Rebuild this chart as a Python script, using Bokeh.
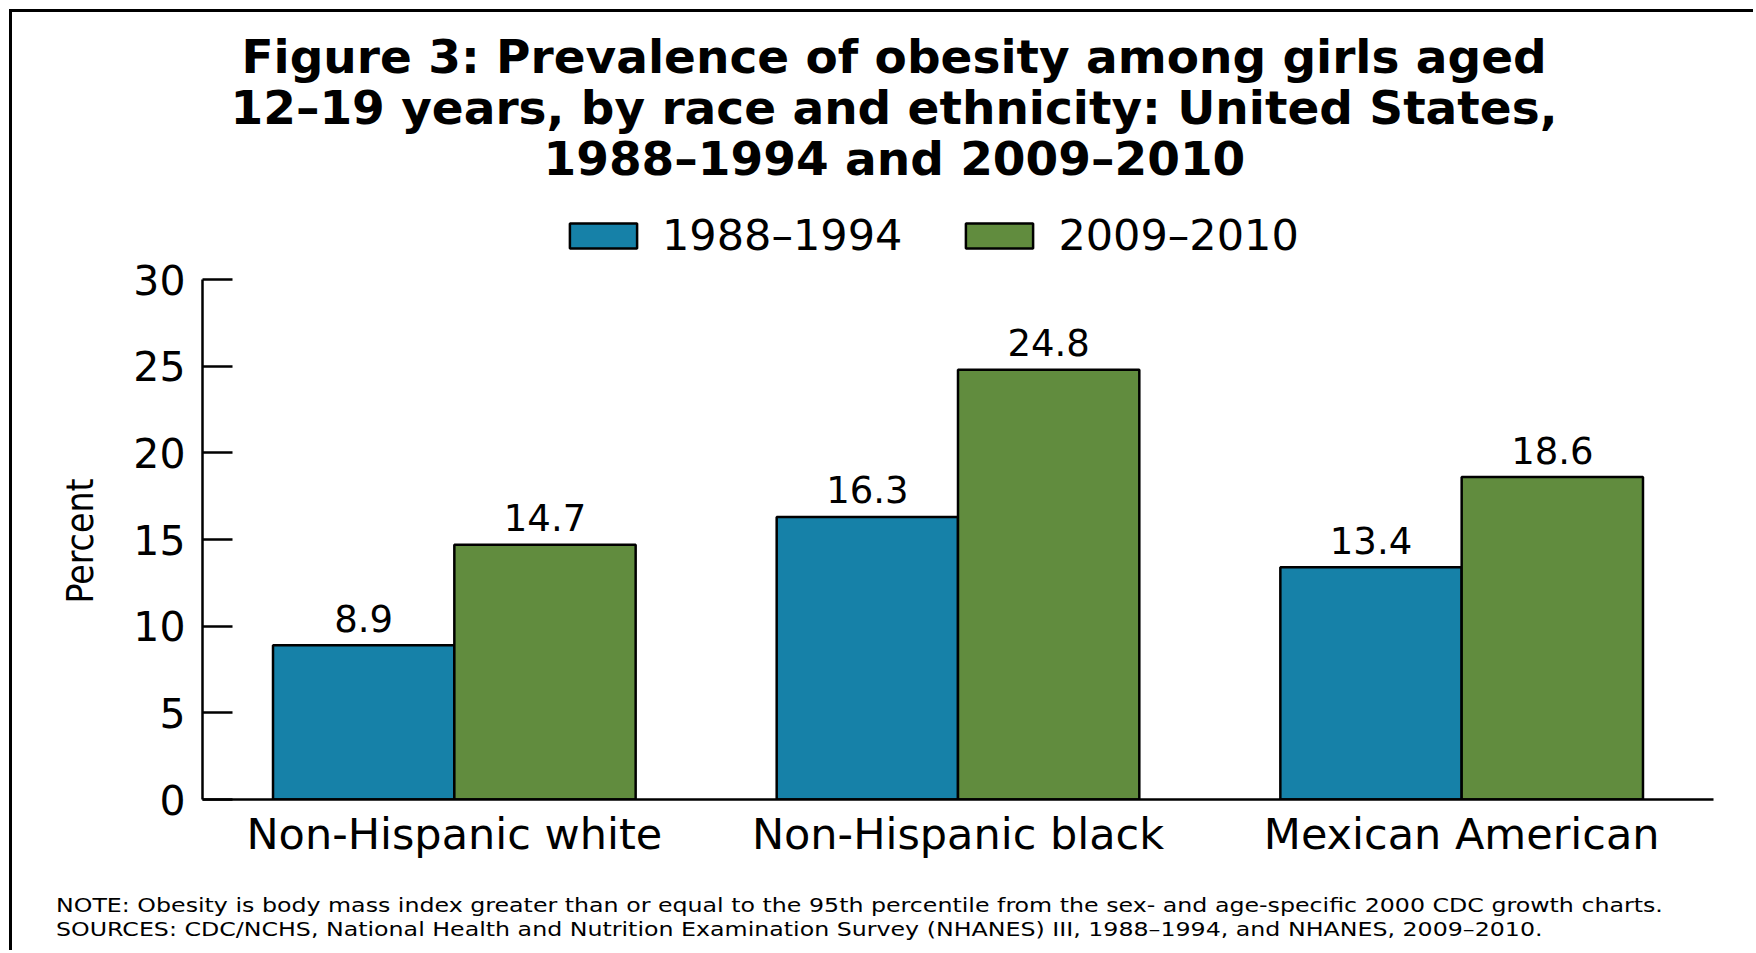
from bokeh.plotting import figure
from bokeh.models import FactorRange, Range1d, ColumnDataSource, Title, Legend, LegendItem, Div
from bokeh.layouts import column
from bokeh.transform import dodge
from bokeh.core.properties import value
from bokeh.embed import file_html
from bokeh.resources import INLINE

# ---- data ----
categories = ["Non-Hispanic white", "Non-Hispanic black", "Mexican American"]
series_names = ["1988–1994", "2009–2010"]
values_1988_1994 = [8.9, 16.3, 13.4]
values_2009_2010 = [14.7, 24.8, 18.6]
y_ticks = [0, 5, 10, 15, 20, 25, 30]
y_label = "Percent"
series_colors = ["#1681a8", "#618c3e"]

title_lines = [
    "Figure 3: Prevalence of obesity among girls aged",
    "12–19 years, by race and ethnicity: United States,",
    "1988–1994 and 2009–2010",
]
note_lines = [
    "NOTE: Obesity is body mass index greater than or equal to the 95th percentile from the sex- and age-specific 2000 CDC growth charts.",
    "SOURCES: CDC/NCHS, National Health and Nutrition Examination Survey (NHANES) III, 1988–1994, and NHANES, 2009–2010.",
]

# ---- layout (page pixels) ----
PAGE_W, PAGE_H = 1756, 953
OFF = 12                      # canvas origin after 9px margin + 3px border
FRAME_L, FRAME_R = 202, 1713
AXIS_TOP, FRAME_B = 279, 799  # pixel rows of y=30 and y=0
FRAME_T = 183                 # frame extends up to hold the legend
CANVAS_B = 880                # figure ends here, notes below
FONT = "DejaVu Sans"

y_end = y_ticks[-1] * (FRAME_B - FRAME_T) / (FRAME_B - AXIS_TOP)

src = ColumnDataSource(dict(
    cat=categories,
    v1=values_1988_1994,
    v2=values_2009_2010,
    l1=[f"{v:.1f}" for v in values_1988_1994],
    l2=[f"{v:.1f}" for v in values_2009_2010],
))

p = figure(width=PAGE_W - OFF, height=CANVAS_B - OFF,
           x_range=FactorRange(*categories, range_padding=0),
           y_range=Range1d(0, y_end),
           output_backend="svg", toolbar_location=None, title_location=None,
           min_border_left=FRAME_L - OFF, min_border_right=PAGE_W - FRAME_R,
           min_border_top=FRAME_T - OFF, min_border_bottom=CANVAS_B - FRAME_B)
p.margin = (9, 0, 0, 9)
p.styles = {"border-left": "3px solid black", "border-top": "3px solid black"}
p.outline_line_color = None
p.grid.visible = False

bw = 0.36
renderers = []
for key, lab, off, col in [("v1", "l1", -bw / 2, series_colors[0]), ("v2", "l2", bw / 2, series_colors[1])]:
    r = p.vbar(x=dodge("cat", off, range=p.x_range), top=key, width=bw, bottom=0, source=src,
               fill_color=col, line_color="black", line_width=2.5)
    renderers.append(r)
    p.text(x=dodge("cat", off, range=p.x_range), y=key, text=lab, source=src,
           text_align="center", text_baseline="middle", y_offset=-27,
           text_font=value(FONT), text_font_size="37px", text_color="black")

# axes
yax = p.yaxis[0]
yax.ticker = y_ticks
yax.bounds = (y_ticks[0], y_ticks[-1])
yax.major_tick_in = 30
yax.major_tick_out = 0
yax.minor_tick_line_color = None
yax.axis_line_width = 2.5
yax.major_tick_line_width = 2.5
yax.axis_line_color = "black"
yax.major_tick_line_color = "black"
yax.major_label_text_font = FONT
yax.major_label_text_font_size = "41px"
yax.major_label_text_color = "black"
yax.major_label_standoff = 17

xax = p.xaxis[0]
xax.major_tick_in = 0
xax.major_tick_out = 0
xax.axis_line_width = 2.5
xax.axis_line_color = "black"
xax.major_label_text_font = FONT
xax.major_label_text_font_size = "43px"
xax.major_label_text_color = "black"
xax.major_label_standoff = 9

# y-axis title, placed along the 0-30 span of the axis
p.add_layout(Title(text=y_label, align="left", offset=196, vertical_align="middle", standoff=56,
                   text_font="Liberation Sans Narrow, DejaVu Sans Condensed, Liberation Sans",
                   text_font_style="normal", text_font_size="37px", text_color="black"), "left")

# legend inside the (extended) frame, above the bars
legend = Legend(items=[LegendItem(label=n, renderers=[r]) for n, r in zip(series_names, renderers)],
                orientation="horizontal", location=(561 - FRAME_L, FRAME_B - 260),
                glyph_width=84, glyph_height=31, label_standoff=17, spacing=55,
                padding=0, margin=0, border_line_color=None, background_fill_alpha=0,
                label_text_font=FONT, label_text_font_size="43px", label_text_color="black")
p.add_layout(legend, "center")

# title lines (added outward from the frame), left-aligned so they centre near x=892
title_offsets = [39, 28, 341]
for line, off in reversed(list(zip(title_lines, title_offsets))):
    p.add_layout(Title(text=line, align="left", offset=off, vertical_align="middle", standoff=-6,
                       text_font=FONT, text_font_style="bold", text_font_size="47px",
                       text_color="black"), "above")

notes_html = ("<div style='transform:scaleX(1.185);transform-origin:0 0;white-space:nowrap;'>"
              + "<br>".join(note_lines) + "</div>")
notes = Div(text=notes_html, width=PAGE_W - 12, height=PAGE_H - CANVAS_B,
            margin=(0, 0, 0, 9),
            styles={"border-left": "3px solid black", "font-family": FONT, "font-size": "20px",
                    "line-height": "23.5px", "color": "black", "white-space": "nowrap",
                    "padding-top": "17px", "padding-left": "44px", "box-sizing": "border-box"})

layout = column(p, notes, spacing=0)
open("out.html", "w").write(file_html(layout, INLINE))
